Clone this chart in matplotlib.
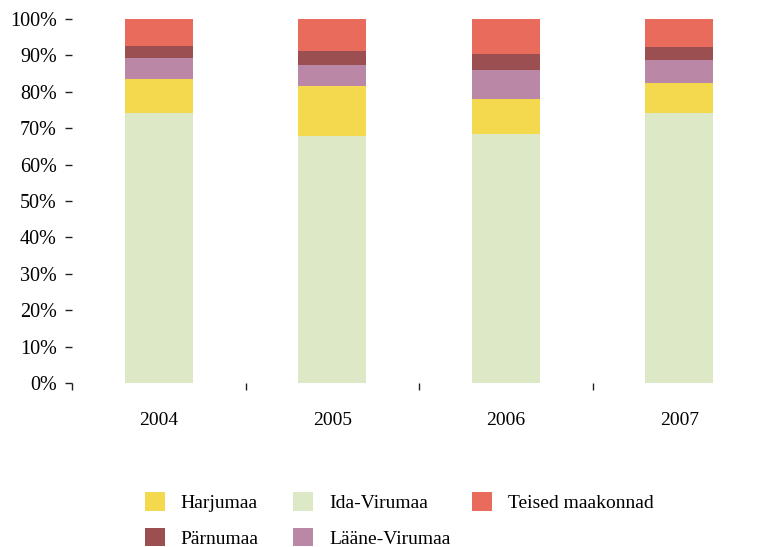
import numpy as np
import matplotlib
matplotlib.use('Agg')
import matplotlib.pyplot as plt
from matplotlib.patches import Patch
from matplotlib.ticker import FixedLocator, PercentFormatter

years = ['2004', '2005', '2006', '2007']
series = ['Ida-Virumaa', 'Harjumaa', 'Lääne-Virumaa', 'Pärnumaa', 'Teised maakonnad']
ida = [74.2, 67.9, 68.4, 74.2]
harju = [9.3, 13.7, 9.6, 8.2]
laane = [5.8, 5.8, 8.0, 6.3]
parnu = [3.3, 3.8, 4.4, 3.6]
teised = [7.4, 8.8, 9.6, 7.7]
values = [ida, harju, laane, parnu, teised]
colors = {'Ida-Virumaa': '#dce8c6', 'Harjumaa': '#f4d94f', 'Lääne-Virumaa': '#bb87a6',
          'Pärnumaa': '#9c4f51', 'Teised maakonnad': '#e96b5c'}

plt.rcParams['font.family'] = ['Liberation Serif', 'DejaVu Serif']
fs = 14

fig = plt.figure(figsize=(7.66, 5.47), dpi=100)
ax = fig.add_axes([0.094, 0.2998, 0.906, 0.6655])

x = np.arange(len(years))
bottom = np.zeros(len(years))
for name, vals in zip(series, values):
    ax.bar(x, vals, 0.39, bottom=bottom, color=colors[name], linewidth=0)
    bottom += np.array(vals)

ax.set_xlim(-0.5, len(years) - 0.5)
ax.set_ylim(0, 100)
ax.set_yticks(np.arange(0, 101, 10))
ax.yaxis.set_major_formatter(PercentFormatter(decimals=0))
ax.set_xticks(x)
ax.set_xticklabels(years)
ax.xaxis.set_minor_locator(FixedLocator(np.arange(-0.5, len(years) - 1, 1)))
for s in ax.spines.values():
    s.set_visible(False)
ax.tick_params(axis='x', which='major', length=0, pad=21, labelsize=fs)
ax.tick_params(axis='x', which='minor', length=5, width=1, color='#222222')
ax.tick_params(axis='y', length=5, width=1, color='#222222', pad=6, labelsize=fs + 0.5)

# legend laid out as a grid of three columns
cols = [['Harjumaa', 'Pärnumaa'], ['Ida-Virumaa', 'Lääne-Virumaa'], ['Teised maakonnad']]
col_x = [0.189, 0.3825, 0.616]
for names, cx in zip(cols, col_x):
    handles = [Patch(facecolor=colors[n], label=n) for n in names]
    fig.legend(handles=handles, loc='upper left', bbox_to_anchor=(cx, 0.100),
               bbox_transform=fig.transFigure, frameon=False, fontsize=fs,
               handlelength=1.05, handleheight=1.1, handletextpad=0.8,
               labelspacing=0.8, borderpad=0, borderaxespad=0)

fig.savefig('out.png', dpi=100)
